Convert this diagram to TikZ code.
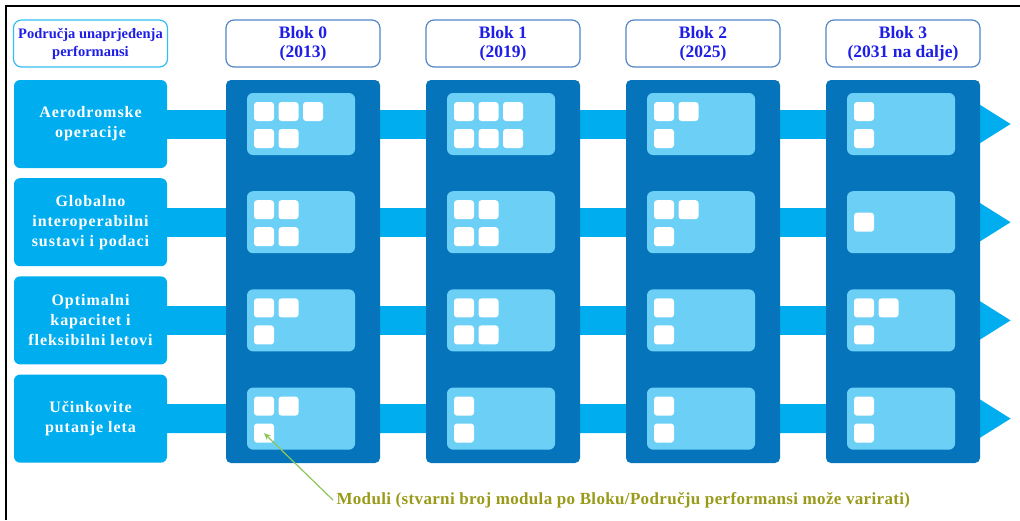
\documentclass[tikz,border=0pt]{standalone}
\usepackage{fontspec}
\setmainfont{Liberation Serif}
\usetikzlibrary{arrows.meta}
\definecolor{bandblue}{HTML}{00AEEF}
\definecolor{blockblue}{HTML}{0574BA}
\definecolor{panelblue}{HTML}{6BCFF6}
\definecolor{hdrline}{HTML}{4F86C6}
\definecolor{hdrtext}{HTML}{1E1EE6}
\definecolor{olive}{HTML}{9A9A1A}
\definecolor{pointer}{HTML}{8CC65A}
\begin{document}
\begin{tikzpicture}[x=1pt, y=-1pt,
  area/.style={fill=bandblue, rounded corners=6pt, minimum width=153pt, minimum height=88pt, inner sep=0pt, text=white, font=\bfseries\fontsize{16}{20}\selectfont\addfontfeatures{LetterSpace=6}, align=center},
  hdr/.style={draw=hdrline, line width=1.2pt, fill=white, rounded corners=8pt, minimum width=154pt, minimum height=47pt, inner sep=0pt, text=hdrtext, font=\bfseries\fontsize{17.5}{19}\selectfont, align=center},
  blk/.style={fill=blockblue, rounded corners=5pt, minimum width=154pt, minimum height=383pt, inner sep=0pt},
  panel/.style={fill=panelblue, rounded corners=6pt, minimum width=108pt, minimum height=62pt, inner sep=0pt},
  module/.style={fill=white, rounded corners=3pt, minimum width=20pt, minimum height=19pt, inner sep=0pt, anchor=north west},
  band/.style={draw=bandblue, line width=29pt, -{Triangle[length=31pt, width=36pt]}}]
  \useasboundingbox (0,0) rectangle (1020,520);
  \draw[line width=2pt] (6,520) -- (6,6) -- (1020,6);
  % areas on the left
  \node[area] (area0) at (90.5,124) {Aerodromske\\operacije};
  \node[area] (area1) at (90.5,222.2) {Globalno\\interoperabilni\\sustavi i podaci};
  \node[area] (area2) at (90.5,320.4) {Optimalni\\kapacitet i\\fleksibilni letovi};
  \node[area] (area3) at (90.5,418.6) {Učinkovite\\putanje leta};
  % bands with arrow heads
  \foreach \r in {0,...,3} {
    \coordinate (tip\r) at (1011,124+98.2*\r);
    \draw[band] (area\r.east) -- (tip\r);
  }
  % blocks, panels and modules
  \foreach \b in {0,...,3}
    \node[blk] (blk\b) at (303+200*\b,271.5) {};
  \foreach \b/\r/\m/\n in {0/0/3/2, 0/1/2/2, 0/2/2/1, 0/3/2/1,
                           1/0/3/3, 1/1/2/2, 1/2/2/2, 1/3/1/1,
                           2/0/2/1, 2/1/2/1, 2/2/1/1, 2/3/1/1,
                           3/0/1/1, 3/1/1/0, 3/2/2/1, 3/3/1/1} {
    \node[panel] (p\b\r) at (301+200*\b,124+98.2*\r) {};
    \ifnum\n=0
      \foreach \k in {1,...,\m}
        \node[module] (m\b\r-1-\k) at ([xshift=7pt+24.5pt*(\k-1), yshift=-21.5pt]p\b\r.north west) {};
    \else
      \foreach \k in {1,...,\m}
        \node[module] (m\b\r-1-\k) at ([xshift=7pt+24.5pt*(\k-1), yshift=-9pt]p\b\r.north west) {};
      \foreach \k in {1,...,\n}
        \node[module] (m\b\r-2-\k) at ([xshift=7pt+24.5pt*(\k-1), yshift=-36pt]p\b\r.north west) {};
    \fi
  }
  % headers
  \node[hdr, draw=bandblue!80, font=\bfseries\fontsize{14.5}{18}\selectfont] (hdrA) at (90.5,43.5) {Područja unaprjeđenja\\performansi};
  \node[hdr] (hdr0) at (303,43.5) {Blok 0\\(2013)};
  \node[hdr] (hdr1) at (503,43.5) {Blok 1\\(2019)};
  \node[hdr] (hdr2) at (703,43.5) {Blok 2\\(2025)};
  \node[hdr] (hdr3) at (903,43.5) {Blok 3\\(2031 na dalje)};
  % note
  \node[anchor=west, text=olive, font=\bfseries\fontsize{17}{20}\selectfont\addfontfeatures{LetterSpace=2}] (note) at (333,500) {Moduli (stvarni broj modula po Bloku/Području performansi može varirati)};
  \draw[pointer, line width=1.2pt, -{Stealth[length=7pt, width=6pt]}] (note.west) -- (m03-2-1.center);
\end{tikzpicture}
\end{document}
